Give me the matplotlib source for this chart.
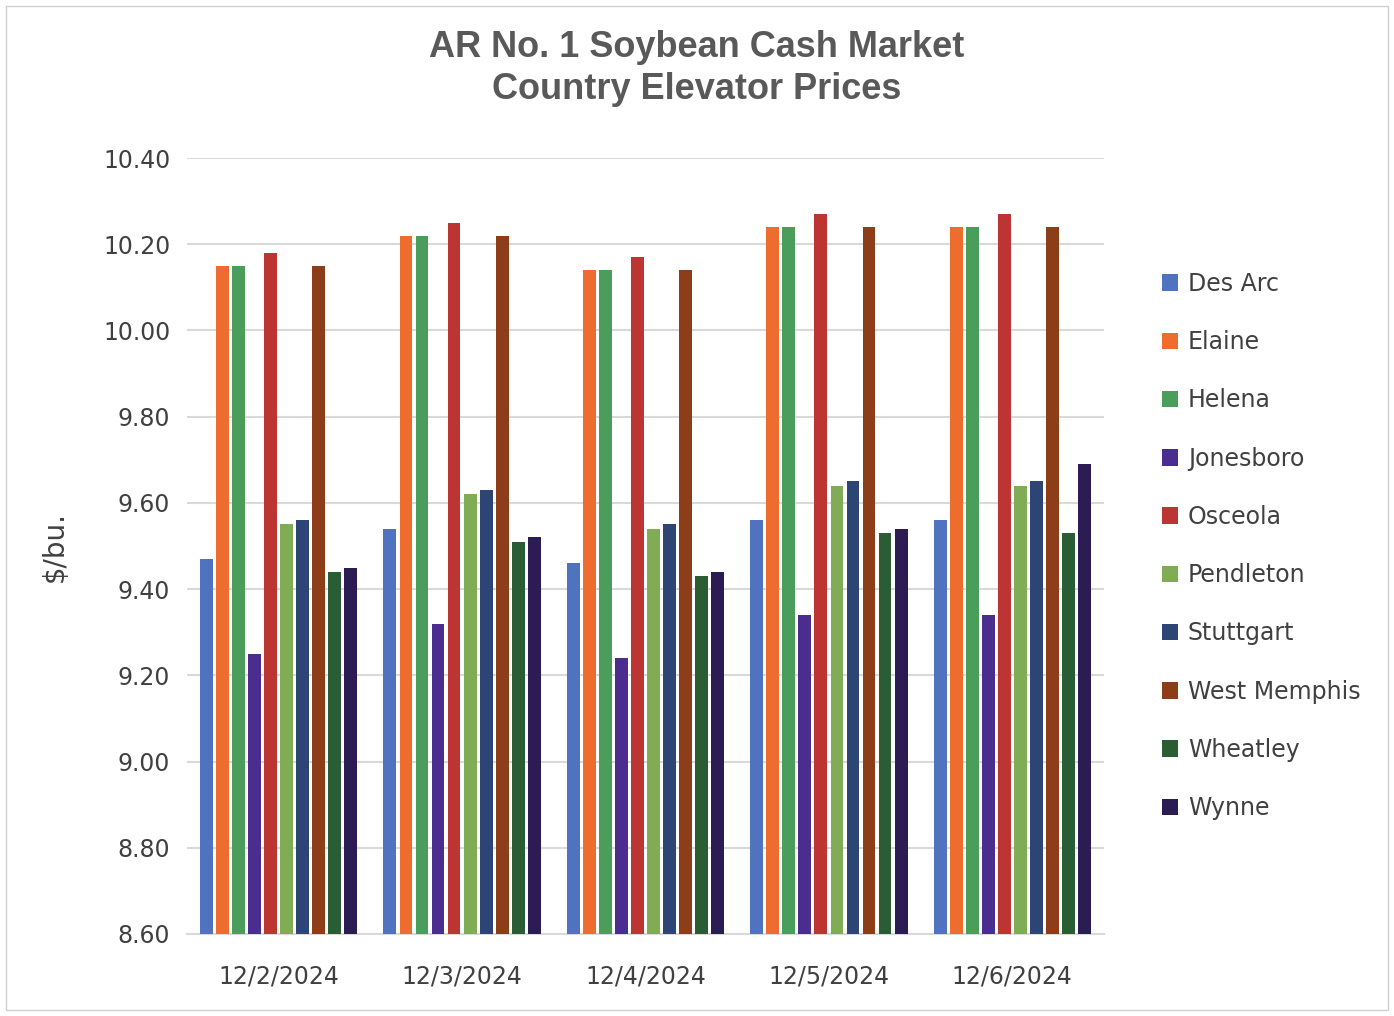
import matplotlib.pyplot as plt
import numpy as np
from matplotlib.patches import Rectangle

dates = ['12/2/2024', '12/3/2024', '12/4/2024', '12/5/2024', '12/6/2024']
des_arc = [9.47, 9.54, 9.46, 9.56, 9.56]
elaine = [10.15, 10.22, 10.14, 10.24, 10.24]
helena = [10.15, 10.22, 10.14, 10.24, 10.24]
jonesboro = [9.25, 9.32, 9.24, 9.34, 9.34]
osceola = [10.18, 10.25, 10.17, 10.27, 10.27]
pendleton = [9.55, 9.62, 9.54, 9.64, 9.64]
stuttgart = [9.56, 9.63, 9.55, 9.65, 9.65]
west_memphis = [10.15, 10.22, 10.14, 10.24, 10.24]
wheatley = [9.44, 9.51, 9.43, 9.53, 9.53]
wynne = [9.45, 9.52, 9.44, 9.54, 9.69]

series = [('Des Arc', des_arc, '#5073c0'), ('Elaine', elaine, '#ed6c2e'),
          ('Helena', helena, '#4b9d5c'), ('Jonesboro', jonesboro, '#4a2d8e'),
          ('Osceola', osceola, '#bd3532'), ('Pendleton', pendleton, '#80ac55'),
          ('Stuttgart', stuttgart, '#2d4574'), ('West Memphis', west_memphis, '#8d3e19'),
          ('Wheatley', wheatley, '#2b5d35'), ('Wynne', wynne, '#2b1c54')]

fig = plt.figure(figsize=(13.94, 10.16), dpi=100)
ax = fig.add_axes([187 / 1394, 1 - 934 / 1016, 917 / 1394, 776 / 1016])
fig.patches.append(Rectangle((0.004, 0.006), 0.992, 0.988, transform=fig.transFigure,
                             fill=False, edgecolor='#d0d0d0', linewidth=1))

x = np.arange(len(dates))
step = 0.0875
width = 0.07
base = 8.60
for i, (name, vals, col) in enumerate(series):
    vals = np.array(vals)
    ax.bar(x + (i - 4.5) * step, vals - base, width, bottom=base, color=col, label=name, zorder=3)

ax.set_ylim(8.60, 10.40)
ax.set_xlim(-0.5, 4.5)
ax.set_yticks(np.arange(8.60, 10.41, 0.20))
ax.set_yticklabels([f'{v:.2f}' for v in np.arange(8.60, 10.41, 0.20)])
ax.set_xticks(x)
ax.set_xticklabels(dates)
ax.tick_params(axis='y', length=0, labelsize=17, colors='#404040', pad=12)
ax.tick_params(axis='x', length=0, labelsize=17, colors='#404040', pad=22)
ax.grid(axis='y', color='#d9d9d9', linewidth=1.5, zorder=0)
for s in ['top', 'right', 'left']:
    ax.spines[s].set_visible(False)
ax.spines['bottom'].set_color('#d9d9d9')
ax.spines['bottom'].set_linewidth(1.5)
ax.set_ylabel('$/bu.', fontsize=20, color='#404040', labelpad=25)

fig.suptitle('AR No. 1 Soybean Cash Market\nCountry Elevator Prices', fontsize=26,
             fontweight='bold', color='#595959', y=0.97, x=0.5, linespacing=1.25,
             fontfamily='Liberation Sans')

ax.legend(loc='center left', bbox_to_anchor=(1.04, 0.5), frameon=False, fontsize=17,
          labelcolor='#404040', handlelength=0.7, handleheight=0.7, labelspacing=1.45,
          handletextpad=0.4)

fig.savefig('out.png', dpi=100)
